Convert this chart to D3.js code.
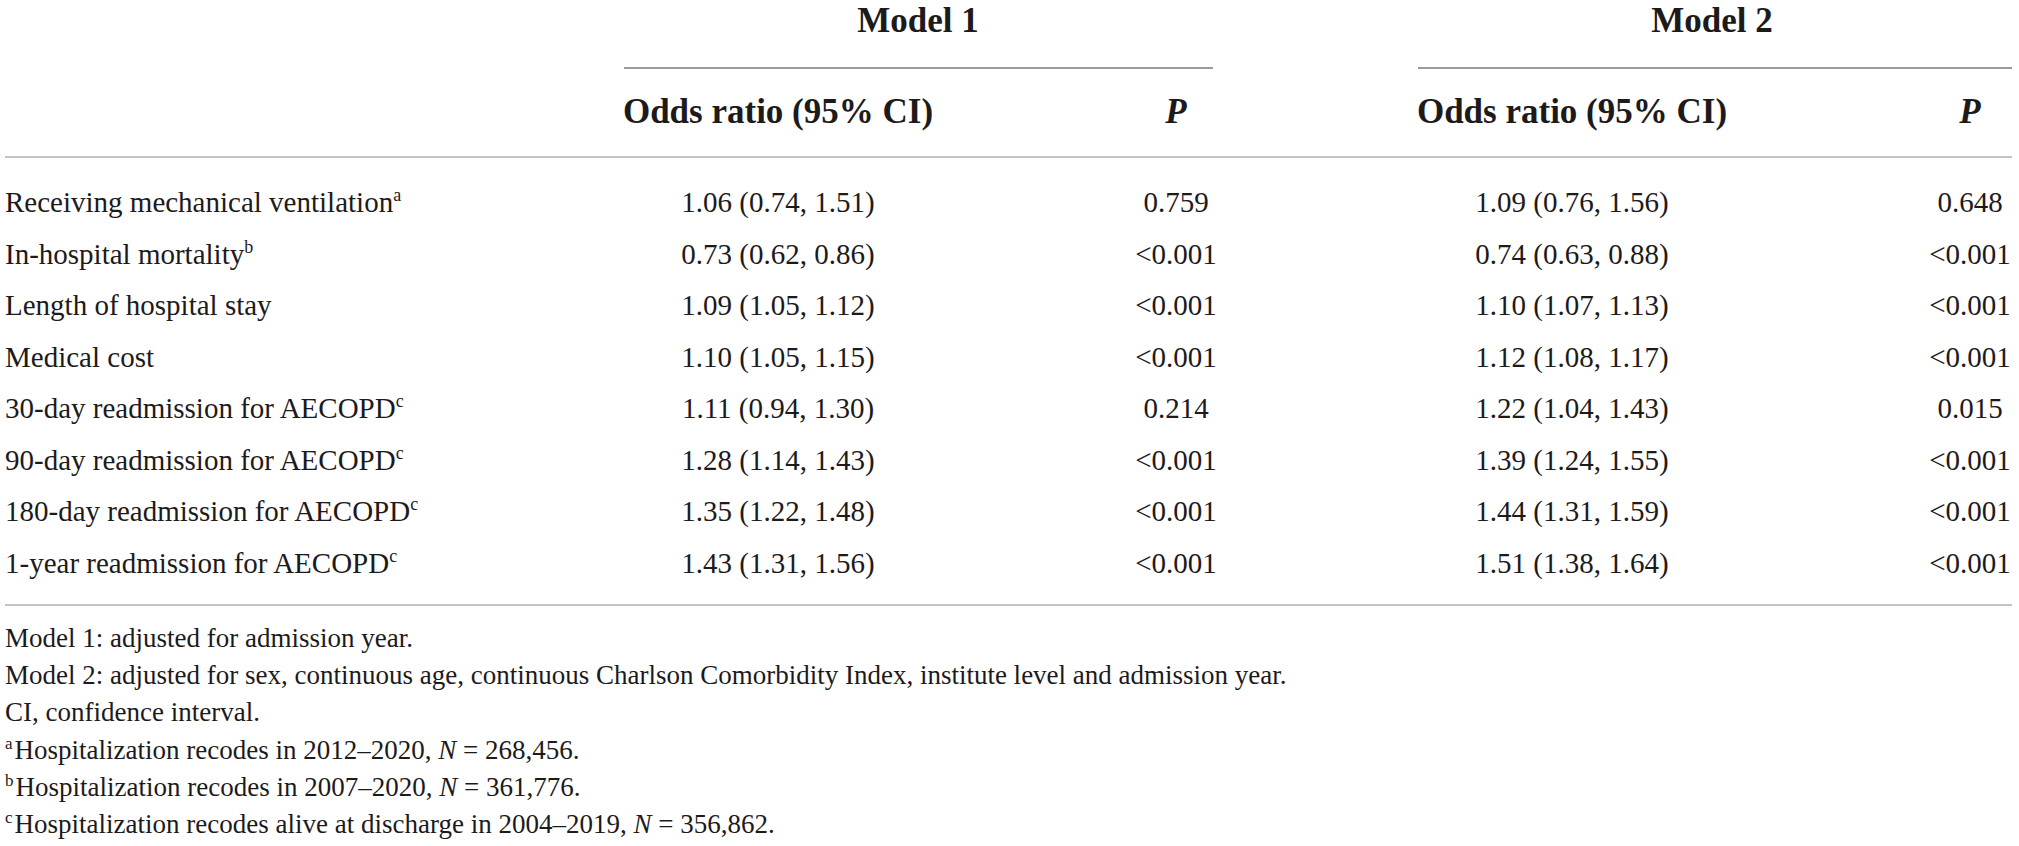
<!DOCTYPE html>
<html>
<head>
<meta charset="utf-8">
<script src="https://cdn.jsdelivr.net/npm/d3@7"></script>
<style>
  body { margin: 0; background: #fff; }
  text { font-family: "Liberation Serif", "Times New Roman", serif; fill: #1d1a1b; }
</style>
</head>
<body>
<div id="table"></div>
<script>
// table content
const models = ["Model 1", "Model 2"];
const outcomes = ["Receiving mechanical ventilation", "In-hospital mortality", "Length of hospital stay",
  "Medical cost", "30-day readmission for AECOPD", "90-day readmission for AECOPD",
  "180-day readmission for AECOPD", "1-year readmission for AECOPD"];
const outcomeMarks = ["a", "b", "", "", "c", "c", "c", "c"];

const m1Or = [1.06, 0.73, 1.09, 1.10, 1.11, 1.28, 1.35, 1.43];
const m1Lo = [0.74, 0.62, 1.05, 1.05, 0.94, 1.14, 1.22, 1.31];
const m1Hi = [1.51, 0.86, 1.12, 1.15, 1.30, 1.43, 1.48, 1.56];
const m1P = ["0.759", "<0.001", "<0.001", "<0.001", "0.214", "<0.001", "<0.001", "<0.001"];

const m2Or = [1.09, 0.74, 1.10, 1.12, 1.22, 1.39, 1.44, 1.51];
const m2Lo = [0.76, 0.63, 1.07, 1.08, 1.04, 1.24, 1.31, 1.38];
const m2Hi = [1.56, 0.88, 1.13, 1.17, 1.43, 1.55, 1.59, 1.64];
const m2P = ["0.648", "<0.001", "<0.001", "<0.001", "0.015", "<0.001", "<0.001", "<0.001"];

const plainNotes = ["Model 1: adjusted for admission year.",
  "Model 2: adjusted for sex, continuous age, continuous Charlson Comorbidity Index, institute level and admission year.",
  "CI, confidence interval."];
const sampleMarks = ["a", "b", "c"];
const samplePeriods = ["in 2012\u20132020", "in 2007\u20132020", "alive at discharge in 2004\u20132019"];
const sampleN = [268456, 361776, 356862];

const width = 2019, height = 846;

const svg = d3.select("#table").append("svg")
    .attr("width", width)
    .attr("height", height);

const f2 = d3.format(".2f"), fN = d3.format(",");

// column positions
const orX = d3.scaleOrdinal().domain(models).range([778, 1572]);
const pX = d3.scaleOrdinal().domain(models).range([1176, 1970]);
const spanX = d3.scaleOrdinal().domain(models).range([[624, 1213], [1418, 2012]]);

// row positions
const y = d3.scaleLinear().domain([0, outcomes.length - 1]).range([212, 573]);
const noteY = d3.scaleLinear().domain([0, 5]).range([647, 833]);

// spanner heads
svg.selectAll("text.model").data(models)
  .enter().append("text")
    .attr("class", "model")
    .attr("x", d => orX(d) + (pX(d) - orX(d)) / 2 - 59)
    .attr("y", 32)
    .attr("text-anchor", "middle")
    .style("font-size", "35px")
    .style("font-weight", "bold")
    .text(d => d);

svg.selectAll("line.span").data(models)
  .enter().append("line")
    .attr("class", "span")
    .attr("x1", d => spanX(d)[0])
    .attr("x2", d => spanX(d)[1])
    .attr("y1", 68).attr("y2", 68)
    .attr("stroke", "#7a7a7a")
    .attr("stroke-width", 1.5);

// column heads
svg.selectAll("text.orHead").data(models)
  .enter().append("text")
    .attr("class", "orHead")
    .attr("x", d => orX(d))
    .attr("y", 123)
    .attr("text-anchor", "middle")
    .style("font-size", "35px")
    .style("font-weight", "bold")
    .text("Odds ratio (95% CI)");

svg.selectAll("text.pHead").data(models)
  .enter().append("text")
    .attr("class", "pHead")
    .attr("x", d => pX(d))
    .attr("y", 123)
    .attr("text-anchor", "middle")
    .style("font-size", "35px")
    .style("font-weight", "bold")
    .style("font-style", "italic")
    .text("P");

// rules
[157, 605].forEach(ry => {
  svg.append("line")
    .attr("x1", 5).attr("x2", 2012)
    .attr("y1", ry).attr("y2", ry)
    .attr("stroke", "#c4c4c4")
    .attr("stroke-width", 2);
});

// row labels
const labels = svg.selectAll("text.rowLabel").data(outcomes)
  .enter().append("text")
    .attr("class", "rowLabel")
    .attr("x", 5)
    .attr("y", (d, i) => y(i))
    .style("font-size", "29px");
labels.append("tspan").text(d => d);
labels.append("tspan")
    .attr("dy", -11)
    .style("font-size", "18px")
    .text((d, i) => outcomeMarks[i]);

// cells
const cells = [
  {m: "Model 1", or: m1Or, lo: m1Lo, hi: m1Hi, p: m1P},
  {m: "Model 2", or: m2Or, lo: m2Lo, hi: m2Hi, p: m2P}
];

cells.forEach(c => {
  svg.selectAll(null).data(c.or)
    .enter().append("text")
      .attr("x", orX(c.m))
      .attr("y", (d, i) => y(i))
      .attr("text-anchor", "middle")
      .style("font-size", "29px")
      .text((d, i) => f2(d) + " (" + f2(c.lo[i]) + ", " + f2(c.hi[i]) + ")");

  svg.selectAll(null).data(c.p)
    .enter().append("text")
      .attr("x", pX(c.m))
      .attr("y", (d, i) => y(i))
      .attr("text-anchor", "middle")
      .style("font-size", "29px")
      .text(d => d);
});

// footnotes
svg.selectAll("text.note").data(plainNotes)
  .enter().append("text")
    .attr("class", "note")
    .attr("x", 5)
    .attr("y", (d, i) => noteY(i))
    .style("font-size", "27px")
    .text(d => d);

const sn = svg.selectAll("text.sample").data(sampleMarks)
  .enter().append("text")
    .attr("class", "sample")
    .attr("x", 5)
    .attr("y", (d, i) => noteY(i + 3))
    .style("font-size", "27px");
sn.append("tspan")
    .attr("dy", -10)
    .style("font-size", "17px")
    .text(d => d);
sn.append("tspan")
    .attr("dy", 10)
    .attr("dx", 2)
    .text((d, i) => "Hospitalization recodes " + samplePeriods[i] + ", ");
sn.append("tspan")
    .style("font-style", "italic")
    .text("N");
sn.append("tspan")
    .text((d, i) => " = " + fN(sampleN[i]) + ".");
</script>
</body>
</html>
